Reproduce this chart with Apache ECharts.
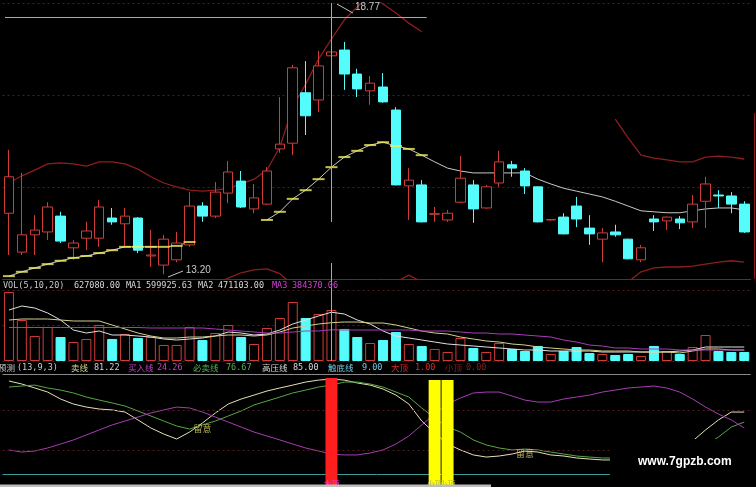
<!DOCTYPE html>
<html><head><meta charset="utf-8">
<script src="https://cdn.jsdelivr.net/npm/echarts@6/dist/echarts.min.js"></script>
<style>html,body{margin:0;padding:0;background:#000;overflow:hidden}#c{width:756px;height:487px}</style>
</head><body><div id="c"></div>
<script>
const categories = ['01','02','03','04','05','06','07','08','09','10','11','12','13','14','15','16','17','18','19','20','21','22','23','24','25','26','27','28','29','30','31','32','33','34','35','36','37','38','39','40','41','42','43','44','45','46','47','48','49','50','51','52','53','54','55','56','57','58'];
const opens  = [14.47,13.66,14.02,14.08,14.41,13.75,13.95,13.95,14.37,14.25,14.37,13.58,13.39,13.50,13.81,14.62,14.41,14.89,15.14,14.56,14.66,15.81,15.93,16.98,16.83,17.75,17.87,17.37,17.02,17.10,16.62,15.04,15.06,14.45,14.33,14.70,15.06,14.58,15.10,15.48,15.35,15.02,14.33,14.39,14.62,14.16,13.93,14.08,13.93,13.50,14.35,14.31,14.35,14.29,14.72,14.85,14.83,14.66];
const closes = [15.23,14.02,14.12,14.60,13.89,13.85,14.10,14.60,14.29,14.41,13.70,13.60,13.93,13.85,14.62,14.41,14.91,15.33,14.60,14.79,15.35,15.91,17.50,16.50,17.54,17.83,17.37,17.06,17.18,16.79,15.06,15.16,14.29,14.46,14.47,15.20,14.56,15.02,15.54,15.41,15.04,14.29,14.34,14.04,14.35,14.04,14.06,14.02,13.52,13.75,14.29,14.39,14.27,14.66,15.08,14.83,14.66,14.08];
const lows   = [13.60,13.60,13.60,13.91,13.85,13.50,13.70,13.77,14.23,13.77,13.64,13.35,13.20,13.45,13.77,14.29,14.37,14.68,14.58,14.47,14.64,15.73,15.68,16.10,16.58,17.72,17.04,16.89,16.73,16.77,15.05,14.33,14.28,14.29,14.29,14.68,14.27,14.56,15.02,15.23,14.87,14.28,14.32,14.03,14.18,13.81,13.45,13.98,13.51,13.45,14.10,14.12,14.14,14.16,14.16,14.58,14.47,14.06];
const highs  = [15.79,15.31,14.43,14.70,14.50,13.91,14.29,14.75,14.58,14.58,14.39,14.12,14.02,14.08,14.91,14.70,15.12,15.56,15.35,15.08,15.43,16.89,17.56,17.64,17.85,18.77,18.04,17.48,17.33,17.39,16.68,15.41,15.16,14.60,14.54,15.66,15.16,15.06,15.77,15.56,15.41,15.03,14.35,14.47,14.81,14.43,14.16,14.23,13.94,13.81,14.43,14.40,14.41,14.85,15.23,14.95,14.91,14.72];

const bandUpper = [15.10,15.25,15.37,15.50,15.52,15.50,15.45,15.54,15.54,15.50,15.39,15.23,15.10,15.02,14.95,14.93,14.95,14.99,15.08,15.18,15.37,15.85,16.68,17.16,17.68,18.10,18.50,18.77,19.00,18.83,18.64,18.43,18.25,null,null,null,null,null,null,null,null,null,null,null,null,null,null,16.43,16.04,15.68,15.62,15.58,15.54,15.54,15.64,15.66,15.64,15.60];
const bandMid = [13.16,13.25,13.33,13.41,13.48,13.54,13.58,13.64,13.70,13.77,13.77,13.77,13.77,13.79,13.87,null,null,null,null,null,14.33,14.50,14.77,14.95,15.18,15.43,15.64,15.77,15.89,15.95,15.87,15.81,15.68,15.54,15.41,15.35,15.31,15.31,15.31,15.31,15.31,15.18,15.08,14.99,14.93,14.87,14.81,14.72,14.62,14.52,14.50,14.48,14.48,14.52,14.56,14.58,14.58,14.54];
const bandLower = [12.80,12.80,12.80,12.80,12.80,12.80,12.80,12.80,12.80,12.80,12.80,12.80,12.80,12.80,12.85,12.90,12.98,13.12,13.23,13.29,13.31,13.21,12.98,12.80,12.70,12.60,12.60,12.70,12.80,12.95,13.04,13.18,13.04,12.90,12.85,12.85,12.85,12.85,12.85,12.85,12.85,12.85,12.85,12.85,12.85,12.85,12.90,12.95,13.04,13.25,13.33,13.35,13.35,13.37,13.41,13.45,13.48,13.45];
const trendMarks = [13.16,13.25,13.33,13.41,13.48,13.54,13.58,13.64,13.70,13.77,13.77,13.77,13.77,13.79,13.87,null,null,null,null,null,14.33,14.50,14.77,14.95,15.18,15.43,15.64,15.77,15.89,15.95,15.87,15.81,15.68,null,null,null,null,null,null,null,null,null,null,null,null,null,null,null,null,null,null,null,null,null,null,null,null,null];
const crossPrice = 18.56;

const volumes = [849000,504000,308000,418000,295000,234000,271000,443000,271000,332000,283000,295000,197000,197000,418000,258000,344000,443000,295000,209000,406000,529000,726000,529000,578000,627080,394000,295000,221000,258000,357000,209000,185000,148000,111000,283000,160000,111000,221000,148000,123000,185000,86000,123000,172000,98000,86000,74000,86000,62000,185000,123000,86000,172000,320000,123000,111000,111000];
const volMA1 = [627300,676500,651900,590400,504300,381300,344400,369000,319800,319800,307500,295200,270600,258300,270600,282900,307500,356700,344400,319800,332100,381300,455100,504300,553500,599925.63,578100,504300,455100,369000,307500,282900,258300,233700,209100,196800,184500,172200,159900,147600,135300,135300,123000,123000,123000,123000,110700,110700,110700,110700,110700,110700,123000,135300,172200,172200,172200,172200];
const volMA2 = [504300,516600,516600,516600,504300,492000,492000,492000,442800,393600,344400,307500,282900,282900,295200,295200,307500,319800,319800,307500,319800,356700,405900,430500,455100,471103,479700,479700,467400,467400,442800,405900,369000,344400,332100,295200,270600,246000,233700,209100,196800,172200,159900,147600,135300,135300,123000,123000,123000,110700,110700,110700,98400,123000,147600,147600,135300,135300];
const volMA3 = [412000,412000,412000,412000,412000,412000,412000,412000,412000,412000,412000,405900,405900,405900,405900,405900,393600,381300,369000,356700,344400,344400,356700,369000,369000,384370.06,381300,381300,381300,381300,381300,381300,369000,369000,369000,356700,344400,344400,332100,332100,319800,307500,295200,258300,233700,196800,184500,159900,159900,147600,147600,147600,135300,135300,135300,135300,135300,135300];

const sellLine = [79.8,77.5,74.5,71.4,66.1,62.3,60.0,58.5,57.8,56.2,50.2,44.1,39.5,35.7,41.0,47.9,55.5,62.3,66.1,69.1,72.2,74.5,76.7,79.0,80.5,81.22,80.5,78.3,76.7,73.7,69.1,62.3,49.4,40.3,31.9,27.4,23.6,22.0,22.8,24.3,26.6,25.8,23.6,22.8,21.3,20.5,19.8,19.8,19.0,18.2,18.2,19.8,25.8,34.2,42.6,50.2,56.2,56.2];
const mustSellLine = [75.2,76.0,76.7,74.5,72.9,70.7,67.6,65.3,63.1,60.8,57.0,53.2,49.4,45.6,43.3,46.4,49.4,53.2,57.0,61.6,64.6,67.6,70.7,72.9,75.2,76.67,79.0,79.0,77.5,75.2,71.4,67.6,59.3,51.7,44.8,41.0,35.0,31.2,28.9,27.4,28.1,27.4,25.8,24.3,22.8,22.0,21.3,21.3,20.5,19.8,19.8,20.5,23.6,27.4,31.2,37.2,44.8,48.6];
const buyLine = [27.4,25.8,26.6,28.9,31.9,35.0,38.8,42.6,46.4,49.4,52.4,55.5,57.8,60.0,59.3,56.2,52.4,48.6,44.8,41.0,38.0,35.0,31.9,28.9,26.6,24.26,23.6,23.6,25.1,27.4,31.9,38.0,46.4,54.7,62.3,66.9,70.7,71.4,71.4,68.4,65.3,63.8,63.8,66.1,67.6,69.1,71.4,72.9,74.5,75.2,76.0,74.5,71.4,66.1,60.0,54.7,50.2,44.1];
const bigTop = [null,null,null,null,null,null,null,null,null,null,null,null,null,null,null,null,null,null,null,null,null,null,null,null,null,82,null,null,null,null,null,null,null,null,null,null,null,null,null,null,null,null,null,null,null,null,null,null,null,null,null,null,null,null,null,null,null,null];
const smallTop = [null,null,null,null,null,null,null,null,null,null,null,null,null,null,null,null,null,null,null,null,null,null,null,null,null,null,null,null,null,null,null,null,null,80.5,80.5,null,null,null,null,null,null,null,null,null,null,null,null,null,null,null,null,null,null,null,null,null,null,null];
const highPressure = 85;
const bottomLine = 9;
const indGrid = [57.8, 27.4];
const notes = [[15, 43.3], [40, 24.3]];

const UP = '#cf3d38', DOWN = '#54fcfc', BAND = '#8e1d1d', DASH = '#4e1e1e';
const candleData = opens.map((o, i) => [o, closes[i], lows[i], highs[i]]);
const volData = volumes.map((v, i) => ({
  value: v,
  itemStyle: closes[i] >= opens[i] ? {color: '#000', borderColor: UP, borderWidth: 1} : {color: DOWN, borderColor: DOWN, borderWidth: 1}
}));

const chart = echarts.init(document.getElementById('c'));
const gL = 2.5, gR = 5.3;
const hid = {axisLine: {show: false}, axisTick: {show: false}, axisLabel: {show: false}};
const dashSplit = {show: true, lineStyle: {color: DASH, width: 1, type: [2, 3]}};
const line = (name, data, color, xi, yi, extra) => Object.assign({
  type: 'line', name, data, xAxisIndex: xi, yAxisIndex: yi, symbol: 'none', silent: true,
  lineStyle: {color, width: 1}, connectNulls: false, z: 2
}, extra || {});

chart.setOption({
  backgroundColor: '#000',
  animation: false,
  grid: [
    {left: gL, right: gR, top: 3, height: 276},
    {left: gL, right: gR, top: 290, height: 71},
    {left: gL, right: gR, top: 361, height: 125}
  ],
  xAxis: [0, 1, 2].map(g => ({
    type: 'category', gridIndex: g, data: categories, boundaryGap: true,
    axisLine: {show: g === 0, lineStyle: {color: '#8b1a1a'}},
    axisTick: {show: false}, axisLabel: {show: false}, splitLine: {show: false}
  })),
  yAxis: [
    {gridIndex: 0, type: 'value', min: 13.10, max: 18.85, show: false},
    Object.assign({gridIndex: 0, type: 'value', min: 0, max: 3, interval: 1, splitLine: dashSplit}, hid),
    Object.assign({gridIndex: 1, type: 'value', min: 0, max: 873300, interval: 436650, splitLine: dashSplit}, hid),
    {gridIndex: 2, type: 'value', min: 0, max: 95, show: false}
  ],
  series: [
    {type: 'candlestick', xAxisIndex: 0, yAxisIndex: 0, data: candleData, barWidth: 10, silent: true, z: 3,
     itemStyle: {color: '#000', color0: DOWN, borderColor: UP, borderColor0: DOWN, borderWidth: 1}},
    line('upper', bandUpper, BAND, 0, 0, {lineStyle: {color: BAND, width: 1.3}}),
    line('mid', bandMid, '#c8c8c8', 0, 0),
    line('lower', bandLower, BAND, 0, 0, {lineStyle: {color: BAND, width: 1.3}}),
    {type: 'scatter', xAxisIndex: 0, yAxisIndex: 0, data: trendMarks, symbol: 'rect', symbolSize: [12, 2],
     itemStyle: {color: '#f4f05a'}, silent: true, z: 4},
    {type: 'bar', xAxisIndex: 1, yAxisIndex: 2, data: volData, barWidth: 10, silent: true, z: 2},
    line('MA1', volMA1, '#e0e0e0', 1, 2, {z: 3}),
    line('MA2', volMA2, '#d4d08c', 1, 2, {z: 3}),
    line('MA3', volMA3, '#a83cb8', 1, 2, {z: 3}),
    line('卖线', sellLine, '#e4e0b4', 2, 3, {
      markLine: {silent: true, symbol: ['none', 'none'], label: {show: false}, animation: false, data: [
        {yAxis: highPressure, lineStyle: {color: '#8a8a8a', width: 1, type: 'solid'}},
        {yAxis: bottomLine, lineStyle: {color: '#3c9c9c', width: 1, type: 'solid'}},
        {yAxis: indGrid[0], lineStyle: {color: DASH, width: 1, type: [2, 3]}},
        {yAxis: indGrid[1], lineStyle: {color: DASH, width: 1, type: [2, 3]}}
      ]}
    }),
    line('必卖线', mustSellLine, '#56a844', 2, 3),
    line('买入线', buyLine, '#a83cb4', 2, 3),
    {type: 'bar', xAxisIndex: 2, yAxisIndex: 3, data: bigTop, barWidth: 12, barGap: '-100%', silent: true, z: 5,
     itemStyle: {color: '#ff1e1e'},
     label: {show: true, position: 'insideBottom', formatter: '大顶', color: '#e040e0', fontSize: 8, offset: [0, 7], fontFamily: 'Noto Sans CJK SC'}},
    {type: 'bar', xAxisIndex: 2, yAxisIndex: 3, data: smallTop, barWidth: 12, barGap: '-100%', silent: true, z: 5,
     itemStyle: {color: '#ffff00'},
     label: {show: true, position: 'insideBottom', formatter: '小顶', color: '#b0b040', fontSize: 8, offset: [0, 7], fontFamily: 'Noto Sans CJK SC'}},
    {type: 'scatter', xAxisIndex: 2, yAxisIndex: 3, data: notes, symbolSize: 1, itemStyle: {color: 'transparent'}, silent: true, z: 6,
     label: {show: true, position: 'inside', formatter: '留意', color: '#e0d86c', fontSize: 9, fontFamily: 'Noto Sans CJK SC'}}
  ]
});

// annotations: crosshair, high/low marks, titles, watermark
const P = (s, i, v) => chart.convertToPixel({seriesIndex: s}, [categories[i], v]);
const g = [];
const ln = (x1, y1, x2, y2, stroke, z) => g.push({type: 'line', silent: true, z: z || 50, shape: {x1, y1, x2, y2}, style: {stroke, lineWidth: 1}});
const tx = (text, x, y, fill, font, z) => g.push({type: 'text', silent: true, z: z || 50, x, y,
  style: {text, fill, font, verticalAlign: 'middle', align: 'left'}});

const cIdx = 25;
const hp = P(0, cIdx, highs[cIdx]);
const cx = Math.round(hp[0]) + 0.5;
const vb = P(5, cIdx, 0);
ln(cx, 3, cx, 222, '#a8a8a8', 20);
ln(cx, 263, cx, vb[1], '#a8a8a8', 20);
const hy = Math.round(P(0, 0, crossPrice)[1]) + 0.5;
ln(5, hy, P(0, 32, crossPrice)[0] + 5, hy, '#a8a8a8', 20);

ln(hp[0] + 5.5, hp[1] - 2.8, hp[0] + 21.5, hp[1] + 6.2, '#c0c0c0');
tx(highs[cIdx].toFixed(2), hp[0] + 23.5, hp[1] + 0.7, '#c8c8c8', '10px Liberation Sans');
const lIdx = 12;
const lp = P(0, lIdx, lows[lIdx]);
ln(lp[0] + 4.25, lp[1] + 2.8, lp[0] + 19.25, lp[1] - 3.2, '#c0c0c0');
tx(lows[lIdx].toFixed(2), lp[0] + 22, lp[1] - 4.2, '#c8c8c8', '10px Liberation Sans');

// right frame segment
ln(754.5, 113, 754.5, 279, '#8b1a1a', 10);

const MONO = "8.5px 'DejaVu Sans Mono', monospace", CJK = "8.5px 'Noto Sans CJK SC'";
const volTitle = [['VOL(5,10,20)', 3, '#c8c8c8'], [volumes[cIdx].toFixed(2), 74, '#d8d8d8'], ['MA1', 126, '#d8d8d8'], [volMA1[cIdx].toFixed(2), 146, '#d8d8d8'],
  ['MA2', 198, '#d8d8d8'], [volMA2[cIdx].toFixed(2), 218, '#d8d8d8'], ['MA3', 272, '#d040d0'], [volMA3[cIdx].toFixed(2), 292, '#d040d0']];
volTitle.forEach(t => tx(t[0], t[1], 285.5, t[2], MONO));
const indTitle = [['预测', -2, '#c8c8c8', 1], ['(13,9,3)', 17, '#c8c8c8'], ['卖线', 71, '#d8d890', 1], [sellLine[cIdx].toFixed(2), 94, '#d0d0d0'],
  ['买入线', 128, '#c040c0', 1], [buyLine[cIdx].toFixed(2), 157, '#c040c0'], ['必卖线', 193, '#50b450', 1], [mustSellLine[cIdx].toFixed(2), 226, '#50b450'],
  ['高压线', 262, '#d8d8d8', 1], [highPressure.toFixed(2), 293, '#d8d8d8'], ['触底线', 328, '#78c8e0', 1], [bottomLine.toFixed(2), 362, '#78c8e0'],
  ['大顶', 391, '#e02828', 1], ['1.00', 415, '#e02828'], ['小顶', 445, '#802020', 1], ['0.00', 466, '#802020']];
indTitle.forEach(t => tx(t[0], t[1], 368, t[2], t[3] ? CJK : MONO));

// bottom strip and watermark
g.push({type: 'rect', silent: true, z: 90, shape: {x: 0, y: 484.5, width: 491, height: 3}, style: {fill: '#bdbdbd'}});
g.push({type: 'rect', silent: true, z: 95, shape: {x: 610, y: 439, width: 146, height: 48}, style: {fill: '#000'}});
tx('www.7gpzb.com', 638, 462, '#ffffff', 'bold 12px Liberation Sans', 100);

chart.setOption({graphic: g});
</script></body></html>
